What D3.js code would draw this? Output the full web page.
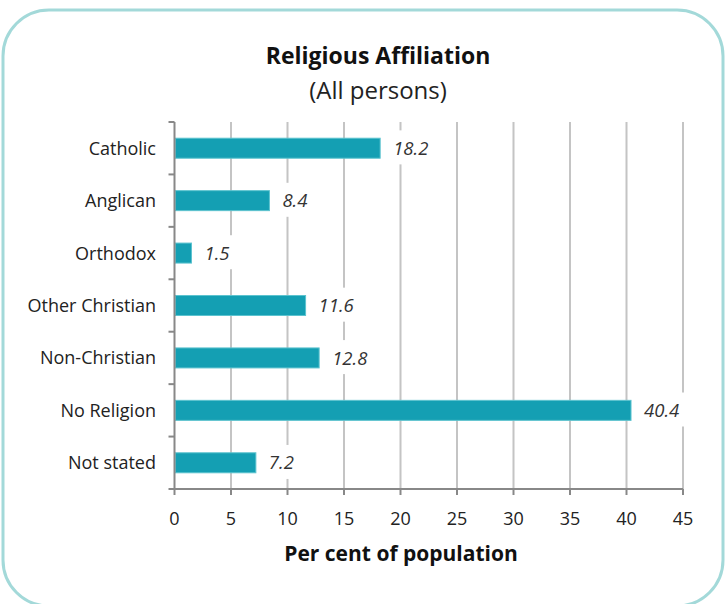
<!DOCTYPE html>
<html>
<head>
<meta charset="utf-8">
<title>Religious Affiliation</title>
<script src="https://cdn.jsdelivr.net/npm/d3@7"></script>
<style>
  body { margin: 0; background: #fff; }
  text { font-family: "Open Sans", Lato, sans-serif; fill: #222; }
</style>
</head>
<body>
<script>
// data
var categories = ["Catholic", "Anglican", "Orthodox", "Other Christian", "Non-Christian", "No Religion", "Not stated"];
var values = [18.2, 8.4, 1.5, 11.6, 12.8, 40.4, 7.2];
var xTicks = [0, 5, 10, 15, 20, 25, 30, 35, 40, 45];

var W = 726, H = 604;
var plotL = 174.5, plotR = 683, plotT = 122, plotB = 489;

var svg = d3.select("body").append("svg")
    .attr("width", W)
    .attr("height", H);

// rounded frame
svg.append("rect")
    .attr("x", 3).attr("y", 10)
    .attr("width", 720).attr("height", 596)
    .attr("rx", 46).attr("ry", 46)
    .attr("fill", "none")
    .attr("stroke", "#a3d9d9")
    .attr("stroke-width", 3);

var x = d3.scaleLinear().domain([0, 45]).range([plotL, plotR]);
var y = d3.scaleBand().domain(categories).range([plotT, plotB]);

// gridlines
svg.append("g").selectAll("line")
    .data(xTicks.slice(1))
    .enter().append("line")
    .attr("x1", function(d) { return x(d); })
    .attr("x2", function(d) { return x(d); })
    .attr("y1", plotT).attr("y2", plotB)
    .attr("stroke", "#c4c4c4")
    .attr("stroke-width", 2);

// bars
var barH = 20;
svg.append("g").selectAll("rect")
    .data(values)
    .enter().append("rect")
    .attr("x", x(0) + 1)
    .attr("y", function(d, i) { return y(categories[i]) + y.bandwidth() / 2 - barH / 2; })
    .attr("width", function(d) { return x(d) - x(0) - 1; })
    .attr("height", barH)
    .attr("fill", "#149fb3")
    .attr("stroke", "#5cc3cf")
    .attr("stroke-width", 1);

// value labels with white boxes (break the gridlines)
var lab = svg.append("g").selectAll("g")
    .data(values)
    .enter().append("g");
lab.append("text")
    .attr("x", function(d) { return x(d) + 13; })
    .attr("y", function(d, i) { return y(categories[i]) + y.bandwidth() / 2; })
    .attr("dy", "0.36em")
    .attr("font-size", 18.5)
    .attr("font-style", "italic")
    .style("fill", "#333")
    .text(function(d) { return d.toFixed(1); })
    .each(function() {
        var b = this.getBBox();
        d3.select(this.parentNode).insert("rect", "text")
            .attr("x", b.x - 6).attr("y", b.y + b.height / 2 - 17)
            .attr("width", b.width + 12).attr("height", 34)
            .attr("fill", "#fff");
    });

// y axis
var yAxis = svg.append("g");
yAxis.append("line")
    .attr("x1", plotL).attr("x2", plotL)
    .attr("y1", plotT).attr("y2", plotB)
    .attr("stroke", "#888").attr("stroke-width", 2);
var bounds = categories.map(function(c) { return y(c); }).concat([plotB]);
yAxis.selectAll("line.tk")
    .data(bounds)
    .enter().append("line")
    .attr("class", "tk")
    .attr("x1", plotL - 6).attr("x2", plotL)
    .attr("y1", function(d) { return d; })
    .attr("y2", function(d) { return d; })
    .attr("stroke", "#888").attr("stroke-width", 2);
yAxis.selectAll("text")
    .data(categories)
    .enter().append("text")
    .attr("x", 156)
    .attr("y", function(d) { return y(d) + y.bandwidth() / 2; })
    .attr("dy", "0.36em")
    .attr("text-anchor", "end")
    .attr("font-size", 18)
    .text(function(d) { return d; });

// x axis
var xAxis = svg.append("g");
xAxis.append("line")
    .attr("x1", plotL).attr("x2", plotR)
    .attr("y1", plotB).attr("y2", plotB)
    .attr("stroke", "#888").attr("stroke-width", 2);
xAxis.selectAll("line.tk")
    .data(xTicks)
    .enter().append("line")
    .attr("class", "tk")
    .attr("x1", function(d) { return x(d); })
    .attr("x2", function(d) { return x(d); })
    .attr("y1", plotB).attr("y2", plotB + 6)
    .attr("stroke", "#888").attr("stroke-width", 2);
xAxis.selectAll("text")
    .data(xTicks)
    .enter().append("text")
    .attr("x", function(d) { return x(d); })
    .attr("y", 519)
    .attr("dy", "0.36em")
    .attr("text-anchor", "middle")
    .attr("font-size", 18)
    .text(function(d) { return d; });

// titles
svg.append("text")
    .attr("x", 378).attr("y", 64)
    .attr("text-anchor", "middle")
    .attr("font-size", 23)
    .attr("font-weight", "bold")
    .style("fill", "#111")
    .text("Religious Affiliation");
svg.append("text")
    .attr("x", 378).attr("y", 99)
    .attr("text-anchor", "middle")
    .attr("font-size", 24)
    .text("(All persons)");
svg.append("text")
    .attr("x", 401).attr("y", 561)
    .attr("text-anchor", "middle")
    .attr("font-size", 21)
    .attr("font-weight", "bold")
    .style("fill", "#111")
    .text("Per cent of population");
</script>
</body>
</html>
